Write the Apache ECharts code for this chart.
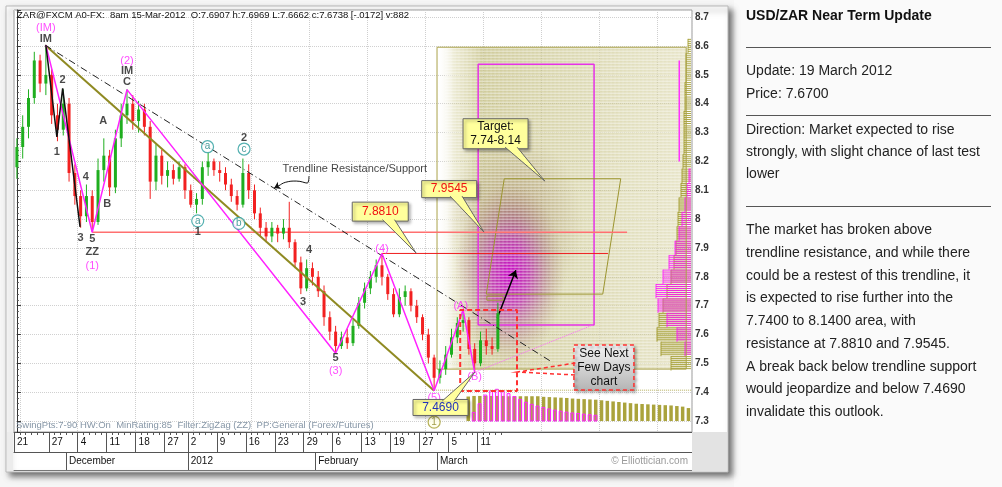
<!DOCTYPE html>
<html><head><meta charset="utf-8">
<script src="https://cdn.jsdelivr.net/npm/echarts@6.0.0/dist/echarts.min.js"></script>
<style>html,body{margin:0;padding:0;background:#f6f6f6;}#c{width:1002px;height:487px;}</style>
</head><body><div id="c"></div>
<script>
const FONT = '"Liberation Sans", Arial, sans-serif';

// ---------------- categories / ticks ----------------
const firstTradingDay = '2011-11-21';
const axisDayCount = 117;
function buildDays() {
  const out = [];
  const d = new Date(firstTradingDay + 'T00:00:00Z');
  while (out.length < axisDayCount) {
    const wd = d.getUTCDay();
    if (wd !== 0 && wd !== 6) out.push(d.toISOString().slice(0, 10));
    d.setUTCDate(d.getUTCDate() + 1);
  }
  return out;
}
const days = buildDays();
const lastBarIdx = 83;
const weekTickIdx = [0, 6, 11, 16, 21, 26, 30, 35, 40, 45, 50, 55, 60, 65, 70, 75, 80];
const weekTickLabels = ['21', '27', '4', '11', '18', '27', '2', '9', '16', '23', '29', '6', '13', '19', '27', '5', '11'];
const monthTickIdx = [9, 30, 52, 73];
const monthLabels = ['December', '2012', 'February', 'March'];

// ---------------- price bars [open, close, low, high] ----------------
const ohlc = [
  [8.18,8.25,8.14,8.28],[8.25,8.32,8.21,8.36],[8.32,8.42,8.28,8.45],[8.42,8.55,8.40,8.58],[8.55,8.47,8.44,8.57],
  [8.47,8.50,8.43,8.60],[8.50,8.36,8.33,8.52],[8.36,8.31,8.27,8.40],[8.31,8.40,8.29,8.45],[8.40,8.16,8.13,8.42],
  [8.16,8.08,8.05,8.19],[8.08,8.01,7.97,8.10],[8.01,8.08,7.99,8.12],[8.08,7.99,7.955,8.10],[7.99,8.17,7.98,8.21],
  [8.17,8.22,8.13,8.28],[8.22,8.11,8.08,8.24],[8.11,8.28,8.09,8.31],[8.28,8.36,8.25,8.40],[8.36,8.40,8.33,8.45],
  [8.40,8.34,8.31,8.43],[8.34,8.38,8.30,8.41],[8.38,8.32,8.29,8.40],[8.32,8.13,8.07,8.34],[8.13,8.22,8.10,8.26],
  [8.22,8.15,8.12,8.24],[8.15,8.17,8.11,8.20],[8.17,8.14,8.12,8.19],[8.14,8.18,8.13,8.20],[8.18,8.10,8.07,8.19],
  [8.10,8.05,8.04,8.12],[8.05,8.07,8.02,8.09],[8.07,8.18,8.05,8.20],[8.18,8.20,8.15,8.23],[8.20,8.17,8.15,8.21],
  [8.17,8.16,8.13,8.20],[8.16,8.12,8.10,8.18],[8.12,8.08,8.06,8.14],[8.08,8.05,8.03,8.10],[8.05,8.16,8.04,8.21],
  [8.16,8.10,8.07,8.19],[8.10,8.02,8.00,8.12],[8.02,7.97,7.94,8.04],[7.97,7.94,7.92,7.99],[7.94,7.97,7.92,7.99],
  [7.97,7.95,7.92,7.98],[7.95,7.97,7.93,8.00],[7.97,7.92,7.90,8.06],[7.92,7.85,7.83,7.93],[7.85,7.76,7.74,7.87],
  [7.76,7.83,7.75,7.86],[7.83,7.80,7.77,7.85],[7.80,7.75,7.73,7.82],[7.75,7.66,7.63,7.77],[7.66,7.61,7.58,7.68],
  [7.61,7.56,7.535,7.63],[7.56,7.59,7.55,7.61],[7.59,7.57,7.55,7.62],[7.57,7.63,7.56,7.65],[7.63,7.71,7.62,7.73],
  [7.71,7.76,7.69,7.78],[7.76,7.80,7.74,7.82],[7.80,7.84,7.78,7.86],[7.84,7.80,7.77,7.881],[7.80,7.74,7.72,7.81],
  [7.74,7.67,7.66,7.76],[7.67,7.73,7.66,7.76],[7.73,7.75,7.70,7.77],[7.75,7.70,7.68,7.76],[7.70,7.66,7.64,7.72],
  [7.66,7.60,7.58,7.67],[7.60,7.52,7.50,7.62],[7.52,7.45,7.405,7.53],[7.45,7.48,7.43,7.51],[7.48,7.53,7.46,7.56],
  [7.53,7.59,7.52,7.62],[7.59,7.64,7.57,7.66],[7.64,7.65,7.61,7.685],[7.65,7.55,7.53,7.66],[7.55,7.50,7.469,7.57],
  [7.50,7.58,7.49,7.61],[7.58,7.56,7.53,7.62],[7.56,7.55,7.53,7.59],[7.55,7.674,7.54,7.71]
];

// ---------------- annotation geometry (bar index, price) ----------------
const dashDotTrend = [[4.9, 8.603], [92.3, 7.505]];
const oliveTrend = [[4.9, 8.603], [72, 7.405]];
const magentaZigzag = [[5, 8.603], [13, 7.9545], [19, 8.449], [55, 7.535], [63, 7.881], [72, 7.405], [77, 7.685], [79, 7.469]];
const blackZigzag = [[5, 8.603], [6.9, 8.285], [7.9, 8.453], [10.9, 7.973]];
const resist9545 = [[13, 7.9545], [105.3, 7.9545]];
const resist8810 = [[63, 7.881], [102.0, 7.881]];
const projectionBox = [[72.5, 7.48], [72.5, 8.596], [115.5, 8.596], [115.5, 7.48], [72.5, 7.48]];
const magentaBox = [[79.6, 7.633], [79.6, 8.537], [99.6, 8.537], [99.6, 7.633], [79.6, 7.633]];
const targetZone = [[81.0, 7.74], [84.1, 8.14], [104.2, 8.14], [101.1, 7.74], [81.0, 7.74]];
const redDashedBox = [[76.5, 7.404], [76.5, 7.685], [86.3, 7.685], [86.3, 7.404], [76.5, 7.404]];
const lastBarBox = [[81.1, 7.719], [81.1, 7.733], [83.9, 7.733], [83.9, 7.719], [81.1, 7.719]];
const pinkDotted = [[79, 7.469], [99.4, 7.633]];
const oliveDotted = [[72, 7.407], [116.5, 7.407]];
const magentaThin = [[114.3, 8.55], [114.3, 8.20]];
const projectionArrow = [[82.9, 7.657], [86.1, 7.823]];
const squiggle = [[50.4, 8.149], [50.1, 8.125], [48.2, 8.132], [46.4, 8.128], [45.4, 8.118]];
const squiggleTip = [[45.4, 8.118], [44.4, 8.108]];
const purpleGlow = [[75.5, 7.50], [94.5, 8.12]];

// wave labels [text, barIndex, price]
const blackLabels = [['IM',5,8.624],['1',6.9,8.232],['2',7.9,8.482],['3',11,7.934],['4',11.9,8.147],['5',13,7.931],
  ['ZZ',13,7.886],['A',14.9,8.341],['B',15.6,8.054],['IM',19,8.513],['C',19,8.474],['1',31.2,7.954],['2',39.2,8.283],
  ['3',49.4,7.714],['4',50.4,7.893],['5',55,7.517]];
const magentaLabels = [['(IM)',5,8.662],['(1)',13,7.837],['(2)',19,8.549],['(3)',55,7.474],['(4)',63,7.896],
  ['(5)',72,7.379],['(A)',76.6,7.699],['(B)',79,7.452]];
const circleLabels = [['a',31.2,7.994],['a',32.9,8.251],['b',38.3,7.985],['c',39.2,8.243]];
const oliveCircleLabels = [['1',72,7.296]];
const noteLabels = [['Trendline Resistance/Support',58.3,8.173]];

// callouts
const calloutText = ['7.8810', '7.9545', 'Target:\n7.74-8.14', '7.4690', 'See Next\nFew Days\nchart'];
const calloutAt = [[62.7, 8.026], [74.6, 8.104], [82.6, 8.296], [73.1, 7.347], [101.3, 7.486]];
const calloutPointsTo = [[68.9, 7.882], [80.6, 7.955], [91.1, 8.132], [79, 7.469], [86.4, 7.470]];

// right-edge price profiles [price, amount]
const profileStep = 0.05;
const oliveProfile = [[8.60,3],[8.55,5],[8.50,5],[8.45,6],[8.40,6],[8.35,7],[8.30,7],[8.25,7],[8.20,8],[8.15,9],
  [8.10,10],[8.05,12],[8.00,13],[7.95,14],[7.90,15],[7.85,17],[7.80,20],[7.75,24],[7.70,28],[7.65,32],[7.60,34],[7.55,30],[7.50,20]];
const magentaProfile = [[8.15,2],[8.10,4],[8.05,6],[8.00,9],[7.95,12],[7.90,16],[7.85,22],[7.80,28],[7.75,35],
  [7.70,33],[7.65,24],[7.60,14],[7.55,6]];

// bottom time projections (height above base price)
const timeHistBase = 7.30;
const oliveTimeStart = 78;
const oliveTime = [0.085,0.087,0.087,0.087,0.087,0.087,0.087,0.086,0.086,0.086,0.086,0.086,0.086,0.084,0.083,0.082,
  0.081,0.080,0.078,0.077,0.076,0.075,0.074,0.072,0.070,0.068,0.066,0.064,0.062,0.060,0.059,0.058,0.057,0.056,0.055,
  0.054,0.052,0.050,0.045];
const magentaTimeStart = 79;
const magentaTime = [0.03,0.06,0.09,0.105,0.11,0.105,0.095,0.085,0.075,0.065,0.058,0.052,0.047,0.042,0.038,0.034,
  0.031,0.028,0.026,0.024,0.022,0.02];

// ---------------- rendering ----------------
const OLIVE = '#8f8a22';
const MAG = '#ff22ff';

function lineSeries(data, color, width, type, z, extra) {
  return Object.assign({
    type: 'line', xAxisIndex: 0, yAxisIndex: 0, data: data, showSymbol: false, symbol: 'none',
    lineStyle: { color: color, width: width, type: type || 'solid' }, silent: true, z: z || 4, animation: false
  }, extra || {});
}
function labelSeries(list, labelStyle, itemStyle, symbolSize, z) {
  return {
    type: 'scatter', xAxisIndex: 0, yAxisIndex: 0, silent: true, animation: false, z: z || 8,
    symbol: 'circle', symbolSize: symbolSize || 1,
    itemStyle: itemStyle || { color: 'rgba(0,0,0,0)' },
    label: Object.assign({ show: true, position: 'inside', formatter: '{b}', fontFamily: FONT }, labelStyle),
    data: list.map(d => ({ name: d[0], value: [d[1], d[2]] }))
  };
}

const calloutStyle = [
  { w: 56, h: 19, fill: '#ffff9c', stroke: '#666', color: '#f01010' },
  { w: 55, h: 17, fill: '#ffff9c', stroke: '#666', color: '#f01010' },
  { w: 65, h: 30, fill: '#ffff9c', stroke: '#666', color: '#111' },
  { w: 55, h: 16, fill: '#ffff9c', stroke: '#666', color: '#2233bb' },
  { w: 60, h: 45, fill: { type: 'linear', x: 0, y: 0, x2: 0, y2: 1, colorStops: [{ offset: 0, color: '#f4f4f4' }, { offset: 1, color: '#b4b4b4' }] },
    stroke: '#ff3030', color: '#111', dash: [4, 3], lw: 1.5, wedgeFill: 'none' }
];

function renderCallout(params, api) {
  const i = params.dataIndex;
  const st = calloutStyle[i];
  const c = api.coord(calloutAt[i]);
  const t = api.coord(calloutPointsTo[i]);
  const W = st.w, H = st.h, hw = 6;
  const dx = t[0] - c[0], dy = t[1] - c[1];
  const sx = dx ? (W / 2) / Math.abs(dx) : 1e9;
  const sy = dy ? (H / 2) / Math.abs(dy) : 1e9;
  const s = Math.min(sx, sy);
  const ex = c[0] + dx * s, ey = c[1] + dy * s;
  let b1, b2;
  if (sy <= sx) {
    const y = ey - Math.sign(dy) * 1.5;
    const x = Math.max(c[0] - W / 2 + hw + 1, Math.min(c[0] + W / 2 - hw - 1, ex));
    b1 = [x - hw, y]; b2 = [x + hw, y];
  } else {
    const x = ex - Math.sign(dx) * 1.5;
    const y = Math.max(c[1] - H / 2 + hw + 1, Math.min(c[1] + H / 2 - hw - 1, ey));
    b1 = [x, y - hw]; b2 = [x, y + hw];
  }
  return {
    type: 'group', children: [
      { type: 'rect', shape: { x: c[0] - W / 2, y: c[1] - H / 2, width: W, height: H },
        style: { fill: st.fill, stroke: st.stroke, lineWidth: st.lw || 1, lineDash: st.dash || null,
          shadowBlur: 3, shadowOffsetX: 2, shadowOffsetY: 2, shadowColor: 'rgba(0,0,0,0.35)' } },
      { type: 'polygon', shape: { points: [b1, t, b2] }, style: { fill: st.wedgeFill || st.fill } },
      { type: 'polyline', shape: { points: [b1, t, b2] }, style: { fill: 'none', stroke: st.stroke, lineWidth: st.lw || 1, lineDash: st.dash || null } },
      { type: 'text', x: c[0], y: c[1], style: { text: calloutText[i], fill: st.color, fontSize: 12, fontFamily: FONT,
        align: 'center', verticalAlign: 'middle', textAlign: 'center', textVerticalAlign: 'middle', lineHeight: 14 } }
    ]
  };
}

function renderProjection(params, api) {
  const tl = api.coord([projectionBox[1][0], projectionBox[1][1]]);
  const br = api.coord([projectionBox[3][0], projectionBox[3][1]]);
  const x0 = tl[0], y0 = tl[1], w = br[0] - tl[0], h = br[1] - tl[1];
  const g1 = api.coord(purpleGlow[0]), g2 = api.coord(purpleGlow[1]);
  const gcx = (g1[0] + g2[0]) / 2, gcy = (g1[1] + g2[1]) / 2;
  const grx = Math.abs(g2[0] - g1[0]) / 2, gry = Math.abs(g2[1] - g1[1]) / 2;
  const ch = [
    { type: 'rect', shape: { x: x0, y: y0, width: w, height: h },
      style: { fill: { type: 'linear', x: 0, y: 0, x2: 1, y2: 0, colorStops: [
        { offset: 0, color: 'rgba(255,255,255,0)' }, { offset: 0.07, color: 'rgba(210,205,150,0.45)' },
        { offset: 0.18, color: 'rgba(190,184,118,0.72)' }, { offset: 0.6, color: 'rgba(200,195,135,0.62)' },
        { offset: 1, color: 'rgba(212,207,155,0.55)' }] } } },
    { type: 'circle', x: gcx + grx * 0.1, y: gcy - gry * 0.55, scaleY: 1.3, shape: { cx: 0, cy: 0, r: grx * 1.25 },
      style: { fill: { type: 'radial', x: 0.5, y: 0.5, r: 0.5, colorStops: [
        { offset: 0, color: 'rgba(130,80,60,0.45)' }, { offset: 1, color: 'rgba(140,110,70,0)' }] } } },
    { type: 'circle', x: gcx, y: gcy, scaleY: gry / grx, shape: { cx: 0, cy: 0, r: grx },
      style: { fill: { type: 'radial', x: 0.5, y: 0.5, r: 0.5, colorStops: [
        { offset: 0, color: 'rgba(200,0,200,0.95)' }, { offset: 0.35, color: 'rgba(190,30,185,0.75)' },
        { offset: 0.7, color: 'rgba(160,80,130,0.35)' }, { offset: 1, color: 'rgba(160,120,100,0)' }] } } }
  ];
  for (let y = y0 + 1; y < y0 + h; y += 3) {
    ch.push({ type: 'line', shape: { x1: x0 + 8, y1: y, x2: x0 + w, y2: y }, style: { stroke: 'rgba(255,255,255,0.55)', lineWidth: 1 } });
  }
  for (let x = x0 + 10; x < x0 + w; x += 4) {
    ch.push({ type: 'line', shape: { x1: x, y1: y0, x2: x, y2: y0 + h }, style: { stroke: 'rgba(255,255,255,0.2)', lineWidth: 1 } });
  }
  return { type: 'group', children: ch };
}

function renderProfile(color, alpha) {
  return function (params, api) {
    const p = api.value(1), amt = api.value(2);
    const yTop = api.coord([0, p + profileStep / 2])[1];
    const yBot = api.coord([0, p - profileStep / 2])[1];
    const right = params.coordSys.x + params.coordSys.width - 1;
    const left = right - amt;
    const ch = [];
    for (let y = yTop + 0.5; y < yBot; y += 2) {
      ch.push({ type: 'line', shape: { x1: left, y1: y, x2: right, y2: y }, style: { stroke: color, lineWidth: 1, opacity: alpha } });
    }
    ch.push({ type: 'line', shape: { x1: left, y1: yTop, x2: left, y2: yBot }, style: { stroke: color, lineWidth: 1, opacity: alpha } });
    return { type: 'group', children: ch };
  };
}

function renderTimeHist(fill, stroke, frac) {
  return function (params, api) {
    const x = api.value(0), h = api.value(1);
    const a = api.coord([x - 0.5, timeHistBase]);
    const b = api.coord([x + 0.5, timeHistBase + h]);
    const bw = (b[0] - a[0]);
    return { type: 'rect', shape: { x: a[0] + 0.5, y: b[1], width: Math.max(1, bw * frac), height: a[1] - b[1] },
      style: { fill: fill, stroke: stroke, lineWidth: 1 } };
  };
}

function renderCandle(params, api) {
  const x = api.value(0), o = api.value(1), c = api.value(2), l = api.value(3), h = api.value(4);
  const pO = api.coord([x, o]), pC = api.coord([x, c]), pL = api.coord([x, l]), pH = api.coord([x, h]);
  const color = c >= o ? '#1fae1f' : '#f22020';
  const w = 3;
  return { type: 'group', children: [
    { type: 'line', shape: { x1: pH[0], y1: pH[1], x2: pL[0], y2: pL[1] }, style: { stroke: color, lineWidth: 1 } },
    { type: 'rect', shape: { x: pO[0] - w / 2, y: Math.min(pO[1], pC[1]), width: w, height: Math.max(1, Math.abs(pO[1] - pC[1])) }, style: { fill: color } }
  ] };
}

const weekSet = new Set(weekTickIdx);
const monthSet = new Set(monthTickIdx);

const option = {
  animation: false,
  backgroundColor: '#f6f6f6',
  grid: { left: 14, right: 310, top: 10, bottom: 55, show: true, backgroundColor: '#fff', borderColor: '#9a9a9a', borderWidth: 1, containLabel: false },
  xAxis: [
    { type: 'value', min: -0.5, max: 116.5, show: false, position: 'bottom' },
    { type: 'category', data: days, position: 'bottom', offset: 0, boundaryGap: true,
      axisLine: { show: true, onZero: false, lineStyle: { color: '#555' } },
      axisTick: { show: true, interval: (i) => i <= lastBarIdx + 1, length: 3, lineStyle: { color: '#555' } },
      axisLabel: { show: false },
      splitLine: { show: true, interval: (i) => i % 10 === 1, lineStyle: { color: '#cfcfcf', type: 'dotted' } } },
    { type: 'category', data: days, position: 'bottom', offset: 0, boundaryGap: true,
      axisLine: { show: false, onZero: false },
      axisTick: { show: true, interval: (i) => weekSet.has(i), length: 20, lineStyle: { color: '#555' } },
      axisLabel: { show: true, interval: (i) => weekSet.has(i), formatter: (v, i) => weekTickLabels[weekTickIdx.indexOf(i)],
        align: 'left', margin: 5, fontSize: 10, fontFamily: FONT, color: '#111' },
      splitLine: { show: false } },
    { type: 'category', data: days, position: 'bottom', offset: 20, boundaryGap: true,
      axisLine: { show: true, onZero: false, lineStyle: { color: '#555' } },
      axisTick: { show: true, interval: (i) => monthSet.has(i), length: 18, lineStyle: { color: '#555' } },
      axisLabel: { show: true, interval: (i) => monthSet.has(i), formatter: (v, i) => monthLabels[monthTickIdx.indexOf(i)],
        align: 'left', margin: 4, fontSize: 10, fontFamily: FONT, color: '#111' },
      splitLine: { show: false } },
    { type: 'category', data: days, position: 'bottom', offset: 38, boundaryGap: true,
      axisLine: { show: true, onZero: false, lineStyle: { color: '#777' } },
      axisTick: { show: false }, axisLabel: { show: false }, splitLine: { show: false } }
  ],
  yAxis: [{
    type: 'value', position: 'right', min: 7.262, max: 8.725, minInterval: 0.1, maxInterval: 0.1, splitNumber: 14,
    axisLine: { show: true, lineStyle: { color: '#333' } },
    axisTick: { show: true, length: 4, lineStyle: { color: '#333' } },
    minorTick: { show: true, splitNumber: 5, length: 2, lineStyle: { color: '#555' } },
    axisLabel: { margin: 3, fontSize: 10, fontWeight: 'bold', fontFamily: FONT, color: '#333', showMinLabel: false, showMaxLabel: false },
    splitLine: { show: true, lineStyle: { color: '#d0d0d0', type: 'dotted' } }
  }],
  series: [
    { type: 'custom', name: 'projection', coordinateSystem: 'cartesian2d', xAxisIndex: 0, yAxisIndex: 0,
      renderItem: renderProjection, data: [[projectionBox[0][0], projectionBox[0][1]]], encode: { x: 0, y: 1 }, silent: true, z: 1 },
    { type: 'custom', name: 'oliveProfile', coordinateSystem: 'cartesian2d', renderItem: renderProfile('#a39c30', 0.9),
      data: oliveProfile.map(d => [116, d[0], d[1]]), encode: { x: 0, y: 1 }, silent: true, z: 2 },
    { type: 'custom', name: 'magentaProfile', coordinateSystem: 'cartesian2d', renderItem: renderProfile('#ff10ff', 0.8),
      data: magentaProfile.map(d => [116, d[0], d[1]]), encode: { x: 0, y: 1 }, silent: true, z: 3 },
    { type: 'custom', name: 'oliveTime', coordinateSystem: 'cartesian2d', renderItem: renderTimeHist('#aaa33c', null, 0.6),
      data: oliveTime.map((h, k) => [oliveTimeStart + k, h]), encode: { x: 0, y: 1 }, silent: true, z: 2 },
    { type: 'custom', name: 'magentaTime', coordinateSystem: 'cartesian2d', renderItem: renderTimeHist('rgba(255,80,255,0.15)', '#ff20ff', 0.5),
      data: magentaTime.map((h, k) => [magentaTimeStart + k, h]), encode: { x: 0, y: 1 }, silent: true, z: 3 },
    lineSeries(projectionBox, '#aaa24a', 1, 'solid', 3),
    lineSeries(magentaBox, '#e632e6', 1.5, 'solid', 3),
    lineSeries(targetZone, '#9c9530', 1, 'solid', 3),
    lineSeries(oliveDotted, '#b5ad55', 1, 'dotted', 3),
    lineSeries(resist9545, '#ff7070', 1.5, 'solid', 4),
    lineSeries(resist8810, '#ee1c1c', 1, 'solid', 4),
    { type: 'custom', name: 'price', coordinateSystem: 'cartesian2d', renderItem: renderCandle,
      data: ohlc.map((d, i) => [i, d[0], d[1], d[2], d[3]]), encode: { x: 0, y: [1, 2, 3, 4] }, silent: true, z: 5 },
    lineSeries(oliveTrend, OLIVE, 2, 'solid', 6),
    lineSeries(dashDotTrend, '#222', 1, [7, 3, 1, 3], 6),
    lineSeries(magentaZigzag, MAG, 1.5, 'solid', 6),
    lineSeries(blackZigzag, '#111', 1.5, 'solid', 6),
    lineSeries(pinkDotted, '#ff66ff', 1, 'dotted', 6),
    lineSeries(redDashedBox, '#ff3030', 2, [5, 3], 6),
    lineSeries(lastBarBox, '#9c9530', 1, 'solid', 6),
    lineSeries(magentaThin, '#ff33ff', 1.5, 'solid', 6),
    lineSeries(squiggle, '#111', 1, 'solid', 7, { smooth: 0.5,
      markLine: { silent: true, symbol: ['none', 'arrow'], symbolSize: 6, label: { show: false },
        lineStyle: { color: '#111', width: 1, type: 'solid' }, data: [[{ coord: squiggleTip[0] }, { coord: squiggleTip[1] }]] } }),
    lineSeries([projectionArrow[0], projectionArrow[0]], '#000', 1.5, 'solid', 7, {
      markLine: { silent: true, symbol: ['none', 'arrow'], symbolSize: 8, label: { show: false },
        lineStyle: { color: '#000', width: 1.5, type: 'solid' }, data: [[{ coord: projectionArrow[0] }, { coord: projectionArrow[1] }]] } }),
    labelSeries(blackLabels, { fontSize: 11, fontWeight: 'bold', color: '#1a1a1a' }),
    labelSeries(magentaLabels, { fontSize: 11, color: '#ff22ff' }),
    labelSeries(noteLabels, { fontSize: 11, color: '#111' }),
    labelSeries(circleLabels, { fontSize: 10, color: '#1c8585' }, { color: '#ffffff', borderColor: '#2a9d9d', borderWidth: 1.2 }, 12),
    labelSeries(oliveCircleLabels, { fontSize: 10, color: '#8a8420' }, { color: '#ffffe8', borderColor: '#a39c30', borderWidth: 1.2 }, 12),
    { type: 'custom', name: 'callouts', coordinateSystem: 'cartesian2d', renderItem: renderCallout,
      data: calloutAt.map(p => [p[0], p[1]]), encode: { x: 0, y: 1 }, silent: true, z: 10 }
  ],
  graphic: [
    { type: 'rect', z: -10, shape: { x: 6, y: 6, width: 722, height: 466 },
      style: { fill: '#ffffff', stroke: '#b8b8b8', lineWidth: 1, shadowBlur: 6, shadowOffsetX: 4, shadowOffsetY: 4, shadowColor: 'rgba(0,0,0,0.55)' } },
    { type: 'rect', z: -11, shape: { x: 734, y: 0, width: 268, height: 487 }, style: { fill: '#fafafa' } },
    { type: 'rect', z: 1, shape: { x: 692, y: 432, width: 35, height: 39 }, style: { fill: '#e3e3e3' } },
    { type: 'rect', z: 1, shape: { x: 7, y: 432, width: 6, height: 39 }, style: { fill: '#ececec' } },
    { type: 'text', z: 20, x: 17, y: 15, style: { text: 'ZAR@FXCM A0-FX:  8am 15-Mar-2012  O:7.6907 h:7.6969 L:7.6662 c:7.6738 [-.0172] v:882',
      fontSize: 9.5, fontFamily: FONT, fill: '#111', align: 'left', verticalAlign: 'middle', textVerticalAlign: 'middle' } },
    { type: 'text', z: 20, x: 16, y: 425, style: { text: 'SwingPts:7-90 HW:On  MinRating:85  Filter:ZigZag (ZZ)  PP:General (Forex/Futures)',
      fontSize: 9.5, fontFamily: FONT, fill: '#8696a6', align: 'left', verticalAlign: 'middle', textVerticalAlign: 'middle' } },
    { type: 'text', z: 20, x: 688, y: 461, style: { text: '\u00a9 Elliottician.com', fontSize: 10, fontFamily: FONT, fill: '#9a9a9a',
      align: 'right', textAlign: 'right', verticalAlign: 'middle', textVerticalAlign: 'middle' } },
    { type: 'text', z: 20, x: 746, y: 16, style: { text: 'USD/ZAR Near Term Update', fontSize: 14, fontWeight: 'bold', fontFamily: FONT, fill: '#111', align: 'left', verticalAlign: 'middle', textVerticalAlign: 'middle' } },
    { type: 'line', z: 20, shape: { x1: 746, y1: 47.5, x2: 991, y2: 47.5 }, style: { stroke: '#555', lineWidth: 1 } },
    { type: 'text', z: 20, x: 746, y: 71, style: { text: 'Update: 19 March 2012', fontSize: 14, fontFamily: FONT, fill: '#222', align: 'left', verticalAlign: 'middle', textVerticalAlign: 'middle' } },
    { type: 'text', z: 20, x: 746, y: 94, style: { text: 'Price: 7.6700', fontSize: 14, fontFamily: FONT, fill: '#222', align: 'left', verticalAlign: 'middle', textVerticalAlign: 'middle' } },
    { type: 'line', z: 20, shape: { x1: 746, y1: 115.5, x2: 991, y2: 115.5 }, style: { stroke: '#555', lineWidth: 1 } },
    { type: 'text', z: 20, x: 746, y: 119, style: { text: 'Direction: Market expected to rise\nstrongly, with slight chance of last test\nlower',
      fontSize: 14, lineHeight: 22, fontFamily: FONT, fill: '#222', align: 'left', verticalAlign: 'top', textVerticalAlign: 'top' } },
    { type: 'line', z: 20, shape: { x1: 746, y1: 206.5, x2: 991, y2: 206.5 }, style: { stroke: '#555', lineWidth: 1 } },
    { type: 'text', z: 20, x: 746, y: 219, style: { text: 'The market has broken above\ntrendline resistance, and while there\ncould be a restest of this trendline, it\nis expected to rise further into the\n7.7400 to 8.1400 area, with\nresistance at 7.8810 and 7.9545.\nA break back below trendline support\nwould jeopardize and below 7.4690\ninvalidate this outlook.',
      fontSize: 14, lineHeight: 22.75, fontFamily: FONT, fill: '#222', align: 'left', verticalAlign: 'top', textVerticalAlign: 'top' } }
  ]
};

const chart = echarts.init(document.getElementById('c'), null, { renderer: 'canvas', width: 1002, height: 487 });
chart.setOption(option);
</script></body></html>
